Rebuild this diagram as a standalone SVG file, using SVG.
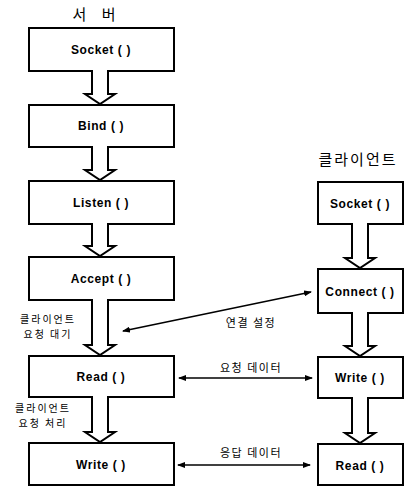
<svg xmlns="http://www.w3.org/2000/svg" width="405" height="486" viewBox="0 0 405 486">
<style>
.box{fill:#fff;stroke:#000;stroke-width:2}
.blk{fill:#fff;stroke:#000;stroke-width:2;stroke-linejoin:miter}
.lbl{font-family:"Liberation Sans",Arial,sans-serif;font-weight:bold;font-size:12px;letter-spacing:0.6px;text-anchor:middle;fill:#000}
.ko{font-family:"Noto Sans CJK KR","Noto Sans",sans-serif;font-size:11px;letter-spacing:1.5px;text-anchor:middle;fill:#000}
.ks{font-family:"Noto Sans CJK KR","Noto Sans",sans-serif;font-size:10px;letter-spacing:2px;text-anchor:middle;fill:#000}
.title{font-family:"Noto Sans CJK KR","Noto Sans",sans-serif;font-size:15px;text-anchor:middle;fill:#000}
.con{stroke:#000;stroke-width:1.6;fill:none;marker-start:url(#ah);marker-end:url(#ah)}
</style>
<defs>
<marker id="ah" markerUnits="userSpaceOnUse" markerWidth="8" markerHeight="6" refX="7" refY="3" orient="auto-start-reverse">
<path d="M0,0 L8,3 L0,6 z" fill="#000"/>
</marker>
</defs>
<rect width="405" height="486" fill="#fff"/>
<text class="title" x="97" y="20" letter-spacing="6">서 버</text>
<text class="title" x="358" y="165" letter-spacing="2">클라이언트</text>

<g id="s-socket"><rect class="box" x="29" y="28" width="145" height="43"/><text class="lbl" x="101" y="54">Socket ( )</text></g>
<g id="s-bind"><rect class="box" x="29" y="105" width="145" height="42"/><text class="lbl" x="101" y="130">Bind ( )</text></g>
<g id="s-listen"><rect class="box" x="29" y="181" width="145" height="43"/><text class="lbl" x="101" y="207">Listen ( )</text></g>
<g id="s-accept"><rect class="box" x="29" y="257" width="145" height="43"/><text class="lbl" x="101" y="283">Accept ( )</text></g>
<g id="s-read"><rect class="box" x="29" y="356" width="145" height="41"/><text class="lbl" x="101" y="381">Read ( )</text></g>
<g id="s-write"><rect class="box" x="29" y="443" width="145" height="42"/><text class="lbl" x="101" y="469">Write ( )</text></g>

<g id="c-socket"><rect class="box" x="318" y="182" width="85" height="42"/><text class="lbl" x="360" y="208">Socket ( )</text></g>
<g id="c-connect"><rect class="box" x="318" y="269" width="85" height="44"/><text class="lbl" x="360" y="296">Connect ( )</text></g>
<g id="c-write"><rect class="box" x="318" y="357" width="85" height="41"/><text class="lbl" x="360" y="382">Write ( )</text></g>
<g id="c-read"><rect class="box" x="318" y="444" width="85" height="41"/><text class="lbl" x="360" y="470">Read ( )</text></g>

<g id="connectors">
<path class="blk" d="M92,70 V94 H85 L100,104 L115,94 H108 V70"/>
<path class="blk" d="M92,146 V170 H85 L100,180 L115,170 H108 V146"/>
<path class="blk" d="M92,223 V246 H85 L100,256 L115,246 H108 V223"/>
<path class="blk" d="M92,299 V345 H85 L100,355 L115,345 H108 V299"/>
<path class="blk" d="M92,396 V432 H85 L100,442 L115,432 H108 V396"/>
<path class="blk" d="M352,223 V258 H345 L360,268 L375,258 H368 V223"/>
<path class="blk" d="M352,312 V346 H345 L360,356 L375,346 H368 V312"/>
<path class="blk" d="M352,397 V433 H345 L360,443 L375,433 H368 V397"/>
<line class="con" x1="311" y1="292" x2="123" y2="331"/>
<line class="con" x1="179" y1="378" x2="312" y2="378"/>
<line class="con" x1="178" y1="465" x2="310" y2="465"/>
</g>

<text class="ks" x="48" y="323">클라이언트</text>
<text class="ks" x="48" y="338">요청 대기</text>
<text class="ks" x="43" y="412">클라이언트</text>
<text class="ks" x="43" y="427">요청 처리</text>
<text class="ko" x="251" y="327">연결 설정</text>
<text class="ko" x="251" y="372">요청 데이터</text>
<text class="ko" x="251" y="457">응답 데이터</text>
</svg>
